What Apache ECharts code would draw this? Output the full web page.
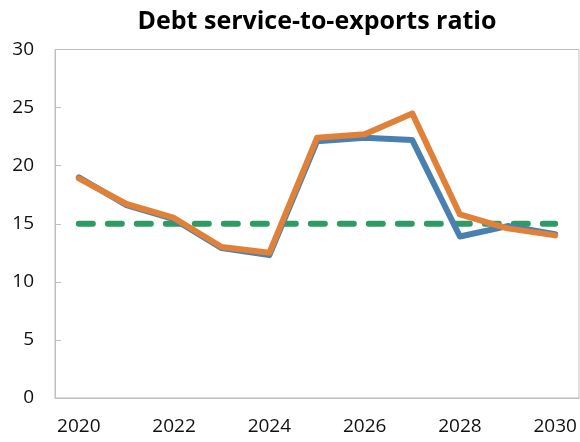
<!DOCTYPE html>
<html>
<head>
<meta charset="utf-8">
<script src="https://cdn.jsdelivr.net/npm/echarts@6/dist/echarts.min.js"></script>
<style>html,body{margin:0;padding:0;background:#fff}#c{width:580px;height:442px}</style>
</head>
<body>
<div id="c"></div>
<script>
const years = ['2020','2021','2022','2023','2024','2025','2026','2027','2028','2029','2030'];
const blueSeries = [19.0, 16.6, 15.4, 12.9, 12.3, 22.1, 22.4, 22.2, 13.9, 14.8, 14.1];
const orangeSeries = [18.9, 16.7, 15.5, 13.0, 12.5, 22.4, 22.7, 24.5, 15.8, 14.6, 14.0];
const thresholdSeries = [15, 15, 15, 15, 15, 15, 15, 15, 15, 15, 15];
const yTicks = [0, 5, 10, 15, 20, 25, 30];

const chart = echarts.init(document.getElementById('c'), null, {renderer: 'canvas'});
const font = '"Open Sans", "Noto Sans", sans-serif';
chart.setOption({
  animation: false,
  backgroundColor: '#fff',
  title: {
    text: 'Debt service-to-exports ratio',
    left: 312, textAlign: 'center', top: 4,
    textStyle: {fontFamily: font, fontSize: 25, fontWeight: 'bold', color: '#000'}
  },
  grid: {left: 55, right: 1, top: 49.5, bottom: 44, show: true, borderColor: '#BFBFBF', borderWidth: 1},
  xAxis: {
    type: 'category', data: years, boundaryGap: true,
    axisLine: {lineStyle: {color: '#BFBFBF', width: 1}},
    axisTick: {inside: true, length: 6, interval: 1, lineStyle: {color: '#BFBFBF'}},
    axisLabel: {interval: 1, margin: 19, fontFamily: font, fontSize: 19, color: '#111'},
    splitLine: {show: false}
  },
  yAxis: {
    type: 'value', min: yTicks[0], max: yTicks[yTicks.length - 1], interval: 5,
    axisLine: {show: true, lineStyle: {color: '#BFBFBF', width: 1}},
    axisTick: {show: true, inside: true, length: 6, lineStyle: {color: '#BFBFBF'}},
    axisLabel: {margin: 21, fontFamily: font, fontSize: 19, color: '#111'},
    splitLine: {show: false}
  },
  series: [
    {type: 'line', data: thresholdSeries, symbol: 'none', z: 2,
     lineStyle: {color: '#2E9A64', width: 6, type: [14, 15], cap: 'round'}},
    {type: 'line', data: blueSeries, symbol: 'none', z: 3,
     lineStyle: {color: '#4A80B0', width: 6, join: 'round', cap: 'round'}},
    {type: 'line', data: orangeSeries, symbol: 'none', z: 4,
     lineStyle: {color: '#E0813A', width: 6, join: 'round', cap: 'round'}}
  ]
});
</script>
</body>
</html>
